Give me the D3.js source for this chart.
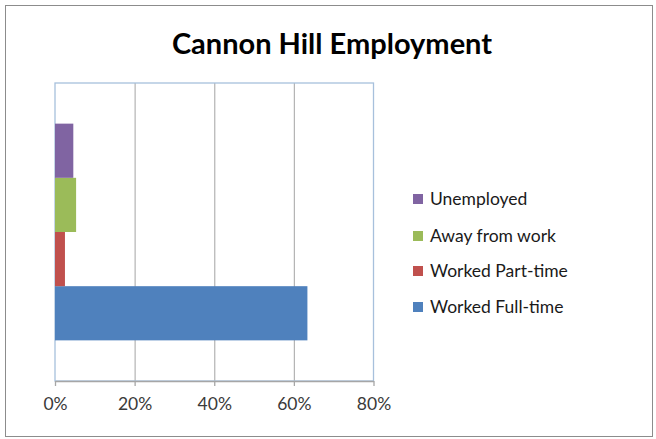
<!DOCTYPE html>
<html>
<head>
<meta charset="utf-8">
<script src="https://cdn.jsdelivr.net/npm/d3@7"></script>
<style>
  html, body { margin: 0; padding: 0; background: #ffffff; }
  svg { display: block; }
</style>
</head>
<body>
<script>
// Cannon Hill employment shares (percent of labour force)
const categories = ["Cannon Hill"];
const seriesNames = ["Worked Full-time", "Worked Part-time", "Away from work", "Unemployed"];
const seriesValues = [63.4, 2.5, 5.3, 4.6];
const seriesColors = ["#4f81bd", "#c0504d", "#9bbb59", "#8064a2"];
const tickValues = [0, 20, 40, 60, 80];
const tickLabels = ["0%", "20%", "40%", "60%", "80%"];

const W = 656, H = 439;
const svg = d3.select("body").append("svg").attr("width", W).attr("height", H);
const font = "Lato, 'Open Sans', sans-serif";

// outer chart frame
svg.append("rect")
  .attr("x", 5.5).attr("y", 5.5).attr("width", 647).attr("height", 431)
  .attr("fill", "#ffffff").attr("stroke", "#8c8c8c").attr("stroke-width", 1);

svg.append("text")
  .attr("x", 332).attr("y", 54)
  .attr("text-anchor", "middle")
  .attr("font-family", font).attr("font-weight", "bold")
  .attr("font-size", 29).attr("fill", "#000000")
  .text("Cannon Hill Employment");

const plot = { left: 55, right: 373.5, top: 83, bottom: 381 };

const x = d3.scaleLinear().domain([0, 80]).range([plot.left, plot.right]);

// one category band, bars stacked vertically inside it (gap width 150%)
const band = d3.scaleBand().domain(categories).range([plot.bottom, plot.top])
  .paddingInner(0).paddingOuter(0);
const nSeries = seriesNames.length;
const gapRatio = 1.5;
const barH = band.bandwidth() / (nSeries + gapRatio);
const inner = d3.scaleBand()
  .domain(d3.range(nSeries))
  .range([band(categories[0]) + band.bandwidth() - barH * gapRatio / 2,
          band(categories[0]) + barH * gapRatio / 2]);

// gridlines
svg.append("g").selectAll("line")
  .data(tickValues.slice(1, -1))
  .join("line")
  .attr("x1", d => x(d) + 0.5).attr("x2", d => x(d) + 0.5)
  .attr("y1", plot.top).attr("y2", plot.bottom)
  .attr("stroke", "#b3b3b3").attr("stroke-width", 1.2);

// plot area border
svg.append("rect")
  .attr("x", plot.left).attr("y", plot.top)
  .attr("width", plot.right - plot.left).attr("height", plot.bottom - plot.top)
  .attr("fill", "none").attr("stroke", "#a7c0dc").attr("stroke-width", 1.3);

// bars
svg.append("g").selectAll("rect")
  .data(seriesValues.map((v, i) => ({ v, i })))
  .join("rect")
  .attr("x", x(0))
  .attr("y", d => inner(d.i))
  .attr("width", d => x(d.v) - x(0))
  .attr("height", inner.bandwidth())
  .attr("fill", d => seriesColors[d.i]);

// x axis
const xAxis = d3.axisBottom(x)
  .tickValues(tickValues)
  .tickFormat((d, i) => tickLabels[i])
  .tickSize(5).tickSizeOuter(0).tickPadding(12);
const gx = svg.append("g")
  .attr("transform", `translate(0,${plot.bottom})`)
  .call(xAxis);
gx.select(".domain").attr("stroke", "#a6a6a6").attr("stroke-width", 1.3);
gx.selectAll(".tick line").attr("stroke", "#a6a6a6").attr("stroke-width", 1.3);
gx.selectAll(".tick text")
  .attr("font-family", font).attr("font-size", 17.5).attr("fill", "#3a3a3a");

// legend (top entry is the last series)
const legendOrder = d3.range(nSeries).reverse();
const legendY = [199, 236, 271, 307];
const legend = svg.append("g").selectAll("g")
  .data(legendOrder)
  .join("g")
  .attr("transform", (d, k) => `translate(413,${legendY[k]})`);
legend.append("rect")
  .attr("x", 0).attr("y", -5).attr("width", 10).attr("height", 10)
  .attr("fill", d => seriesColors[d]);
legend.append("text")
  .attr("x", 17).attr("y", 0).attr("dy", "0.35em")
  .attr("font-family", font).attr("font-size", 17.5).attr("fill", "#1a1a1a")
  .text(d => seriesNames[d]);
</script>
</body>
</html>
